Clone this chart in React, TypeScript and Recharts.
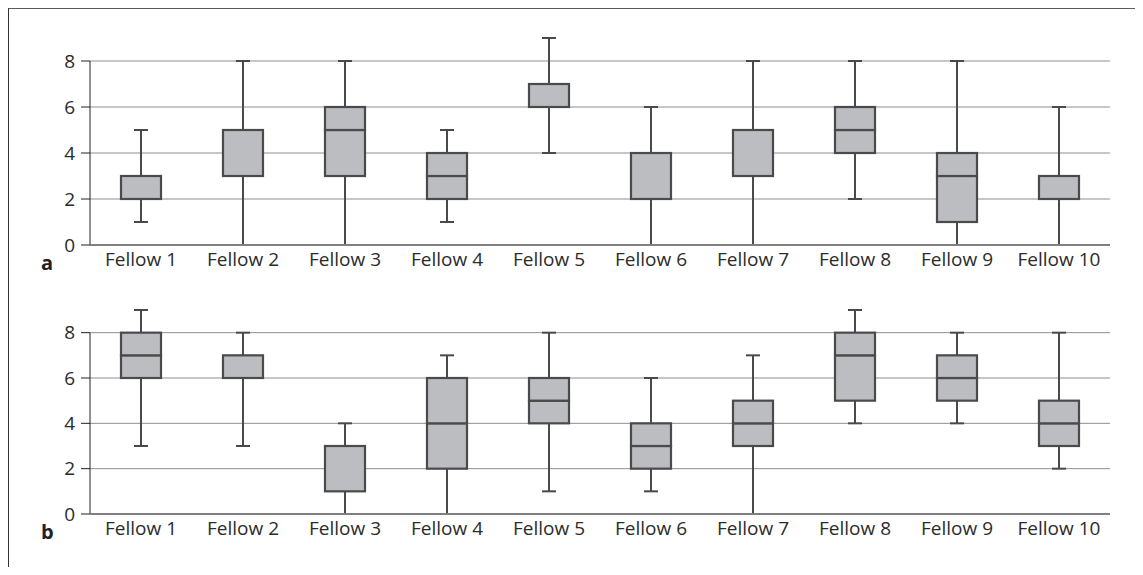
import { Bar, CartesianGrid, ComposedChart, ReferenceLine, XAxis, YAxis } from 'recharts';

const fellows = ['Fellow 1', 'Fellow 2', 'Fellow 3', 'Fellow 4', 'Fellow 5', 'Fellow 6', 'Fellow 7', 'Fellow 8', 'Fellow 9', 'Fellow 10'];
const yTicks = [0, 2, 4, 6, 8];
const yMax = 9;

// panel a
const aMin = [1, 0, 0, 1, 4, 0, 0, 2, 0, 0];
const aQ1 = [2, 3, 3, 2, 6, 2, 3, 4, 1, 2];
const aMedian = [3, 3, 5, 3, 7, 2, 3, 5, 3, 2];
const aQ3 = [3, 5, 6, 4, 7, 4, 5, 6, 4, 3];
const aMax = [5, 8, 8, 5, 9, 6, 8, 8, 8, 6];

// panel b
const bMin = [3, 3, 0, 0, 1, 1, 0, 4, 4, 2];
const bQ1 = [6, 6, 1, 2, 4, 2, 3, 5, 5, 3];
const bMedian = [7, 6, 1, 4, 5, 3, 4, 7, 6, 4];
const bQ3 = [8, 7, 3, 6, 6, 4, 5, 8, 7, 5];
const bMax = [9, 8, 4, 7, 8, 6, 7, 9, 8, 8];

const FONT = '"Open Sans", sans-serif';
const BOX_FILL = '#bcbdc0';
const DARK = '#4a4a4a';

const buildRows = (mn: number[], q1: number[], med: number[], q3: number[], mx: number[]) =>
    fellows.map((name, i) => ({
        name,
        base: mn[i],
        lowWhisker: q1[i] - mn[i],
        lowBox: med[i] - q1[i],
        highBox: q3[i] - med[i],
        highWhisker: mx[i] - q3[i],
    }));

const LowWhisker = (props: any) => {
    const { x, y, width, height } = props;
    if (!height) return null;
    const cx = x + width / 2;
    return (
        <g>
            <line x1={cx} y1={y} x2={cx} y2={y + height} stroke={DARK} strokeWidth={2} />
            {props.payload.base > 0 && (
                <line x1={cx - 7} y1={y + height} x2={cx + 7} y2={y + height} stroke={DARK} strokeWidth={2} />
            )}
        </g>
    );
};

const HighWhisker = (props: any) => {
    const { x, y, width, height } = props;
    if (!height) return null;
    const cx = x + width / 2;
    return (
        <g>
            <line x1={cx} y1={y} x2={cx} y2={y + height} stroke={DARK} strokeWidth={2} />
            <line x1={cx - 7} y1={y} x2={cx + 7} y2={y} stroke={DARK} strokeWidth={2} />
        </g>
    );
};

const BoxPart = (props: any) => {
    const { x, y, width, height } = props;
    if (!height) return null;
    return <rect x={x} y={y} width={width} height={height} fill={BOX_FILL} stroke={DARK} strokeWidth={2.2} />;
};

// grid lines only at the tick values (not at the top of the domain)
const gridRows = ({ offset }: any) => yTicks.map((t) => offset.top + offset.height * (1 - t / yMax));

const BoxPanel = ({ rows, top, marginBottom }: { rows: any[]; top: number; marginBottom: number }) => (
    <div style={{ position: 'absolute', left: 0, top }}>
        <ComposedChart
            width={1143}
            height={290}
            data={rows}
            margin={{ top: 38, right: 33, left: 50, bottom: marginBottom }}
            barSize={40}
        >
            <CartesianGrid vertical={false} stroke="#8f8f8f" strokeWidth={1} horizontalCoordinatesGenerator={gridRows} />
            <XAxis
                dataKey="name"
                axisLine={{ stroke: '#808080', strokeWidth: 2 }}
                tickLine={false}
                tickSize={0}
                tickMargin={8}
                height={30}
                interval={0}
                tick={{ fill: '#2b2b2b', fontSize: 19, fontFamily: FONT }}
            />
            <YAxis
                domain={[0, yMax]}
                ticks={yTicks}
                width={40}
                axisLine={false}
                tickLine={{ stroke: '#222' }}
                tickSize={9}
                tickMargin={6}
                tick={{ fill: '#2b2b2b', fontSize: 19, fontFamily: FONT }}
            />
            <ReferenceLine
                segment={[{ x: fellows[0], y: 0 }, { x: fellows[0], y: 8 }]}
                position="start"
                stroke="#222"
                strokeWidth={1}
            />
            <Bar dataKey="base" stackId="box" fill="transparent" isAnimationActive={false} />
            <Bar dataKey="lowWhisker" stackId="box" shape={LowWhisker} isAnimationActive={false} />
            <Bar dataKey="lowBox" stackId="box" shape={BoxPart} isAnimationActive={false} />
            <Bar dataKey="highBox" stackId="box" shape={BoxPart} isAnimationActive={false} />
            <Bar dataKey="highWhisker" stackId="box" shape={HighWhisker} isAnimationActive={false} />
        </ComposedChart>
    </div>
);

const panelLabel = (text: string, top: number) => (
    <div
        style={{
            position: 'absolute',
            left: 41,
            top,
            fontFamily: FONT,
            fontWeight: 700,
            fontSize: 20,
            color: '#222',
            lineHeight: 1,
        }}
    >
        {text}
    </div>
);

const App = () => {
    const rowsA = buildRows(aMin, aQ1, aMedian, aQ3, aMax);
    const rowsB = buildRows(bMin, bQ1, bMedian, bQ3, bMax);

    return (
        <div style={{ position: 'relative', width: 1143, height: 575, margin: -8, overflow: 'hidden', background: '#fff' }}>
            <div
                style={{
                    position: 'absolute',
                    left: 8,
                    top: 7,
                    width: 1127,
                    height: 620,
                    borderTop: '2px solid #5a5a5a',
                    borderLeft: '1.5px solid #333',
                    borderRight: '1.5px solid #333',
                }}
            />
            <BoxPanel rows={rowsA} top={0} marginBottom={15} />
            <BoxPanel rows={rowsB} top={272} marginBottom={18} />
            {panelLabel('a', 253)}
            {panelLabel('b', 522)}
        </div>
    );
};

export default App;
